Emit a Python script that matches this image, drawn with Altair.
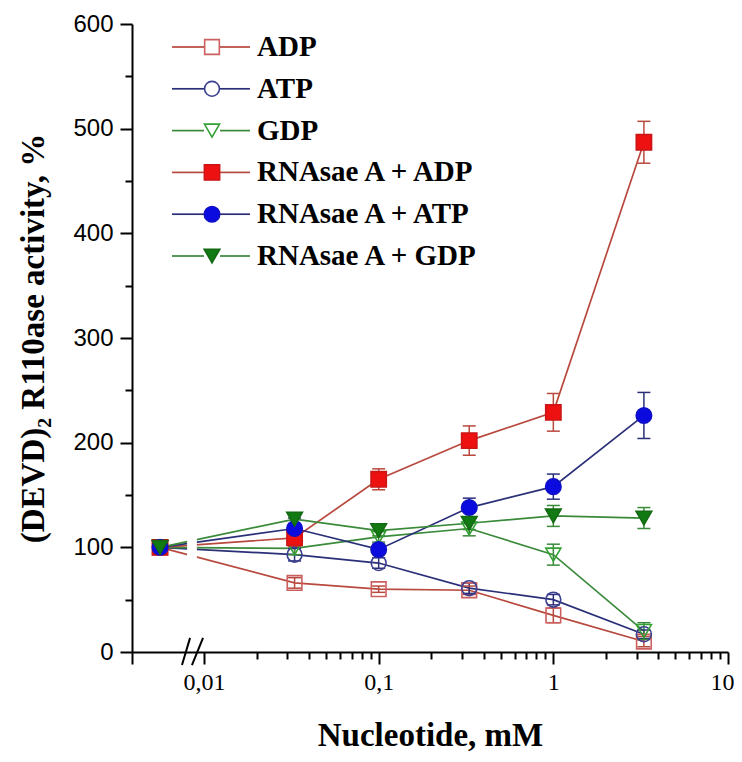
import altair as alt
import pandas as pd

# ---------------- data ----------------
concentration = [0.0056, 0.033, 0.1, 0.33, 1.0, 3.3]   # mM (first = control, left of axis break)
series_names = ["ADP", "ATP", "GDP", "RNAsae A + ADP", "RNAsae A + ATP", "RNAsae A + GDP"]

adp = [100, 66, 60, 59, 35, 10]
adp_err = [5, 5, 3, 4, 7, 5]
atp = [100, 93, 85, 61, 50, 17]
atp_err = [5, 6, 5, 5, 5, 4]
gdp = [100, 99, 110, 118, 93, 20]
gdp_err = [5, 6, 5, 7, 10, 8]
rna_adp = [100, 109, 165, 202, 229, 487]
rna_adp_err = [6, 8, 10, 14, 18, 20]
rna_atp = [100, 118, 98, 138, 158, 226]
rna_atp_err = [5, 10, 5, 9, 12, 22]
rna_gdp = [100, 127, 116, 123, 130, 128]
rna_gdp_err = [5, 6, 5, 6, 10, 10]

all_values = [adp, atp, gdp, rna_adp, rna_atp, rna_gdp]
all_errors = [adp_err, atp_err, gdp_err, rna_adp_err, rna_atp_err, rna_gdp_err]

X_MIN, X_MAX = 0.00387, 10
x_major = [0.01, 0.1, 1, 10]
x_minor = [m * d for d in [0.01, 0.1, 1] for m in range(2, 10)]
y_ticks = list(range(0, 601, 50))

# ---------------- styles ----------------
line_colors = ["#b8493e", "#2a2f78", "#3a8a3a", "#b8493e", "#2a2f78", "#3a8a3a"]
marker_strokes = ["#cc5f5f", "#3b3f8f", "#34a034", "#cc1515", "#1010c8", "#136a13"]
marker_fills = ["transparent", "transparent", "transparent", "#ee1111", "#0b0be0", "#127a12"]
shapes = ["square", "circle", "triangle-down", "square", "circle", "triangle-down"]
sizes = [215, 245, 300, 215, 245, 300]

BREAK_LO, BREAK_HI = 0.0080, 0.0091
slash_x0 = [0.00748, 0.00853]
slash_x1 = [0.00832, 0.00987]
slash_y0, slash_y1 = -12.5, 13.5

rows = []
for name, vals, errs in zip(series_names, all_values, all_errors):
    for xv, yv, ev in zip(concentration, vals, errs):
        rows.append({"series": name, "x": xv, "y": yv, "lo": yv - ev, "hi": yv + ev})
df = pd.DataFrame(rows)

legend_df = pd.DataFrame({"series": series_names, "row": list(range(len(series_names)))})
break_df = pd.DataFrame({"x0": [BREAK_LO], "x1": [BREAK_HI], "y0": [80], "y1": [136]})
slash_df = pd.DataFrame({"x0": slash_x0, "x1": slash_x1, "y0": [slash_y0] * 2, "y1": [slash_y1] * 2})

# ---------------- scales & axes ----------------
serif = "Liberation Serif"
sans = "Liberation Sans"

major_test = "indexof([0.01, 0.1, 1, 10], datum.value) >= 0 || datum.value < 0.005"
x_axis = alt.Axis(
    values=[X_MIN] + x_major + x_minor,
    labelExpr="datum.value == 0.01 ? '0,01' : datum.value == 0.1 ? '0,1' : datum.value == 1 ? '1' : datum.value == 10 ? '10' : ''",
    labelAlign={"condition": {"test": "datum.value == 10", "value": "right"}, "value": "center"},
    labelOffset={"condition": {"test": "datum.value == 10", "value": 6}, "value": 0},
    tickSize={"condition": {"test": major_test, "value": 12}, "value": 7},
    tickWidth=2, tickColor="black", domainColor="black", domainWidth=2,
    labelFont=serif, labelFontSize=24, labelColor="black", labelPadding=6,
    labelOverlap=False, labelFlush=False, labelBound=False,
    grid=False,
    title="Nucleotide, mM", titleFont=serif, titleFontSize=33, titleFontWeight="bold",
    titleColor="black", titleBaseline="alphabetic", titleY=93,
)
y_axis = alt.Axis(
    values=y_ticks,
    labelExpr="datum.value % 100 == 0 ? datum.label : ''",
    tickSize={"condition": {"test": "datum.value % 100 == 0", "value": 12}, "value": 7},
    tickWidth=2, tickColor="black", domainColor="black", domainWidth=2,
    labelFont=sans, labelFontSize=24, labelColor="black", labelPadding=7,
    labelOverlap=False, labelFlush=False, labelBound=False,
    grid=False,
    title="(DEVD)\u2082 R110ase activity, %", titleFont=serif, titleFontSize=33,
    titleFontWeight="bold", titleColor="black", titleBaseline="alphabetic",
    titleX=-89, titleAngle=-90,
)
x_scale = alt.Scale(type="log", domain=[X_MIN, X_MAX], nice=False)
y_scale = alt.Scale(domain=[0, 600], nice=False, zero=False)

X = alt.X("x:Q", scale=x_scale, axis=x_axis)
Y = alt.Y("y:Q", scale=y_scale, axis=y_axis)

color_enc = alt.Color("series:N", scale=alt.Scale(domain=series_names, range=line_colors), legend=None)
shape_enc = alt.Shape("series:N", scale=alt.Scale(domain=series_names, range=shapes), legend=None)
size_enc = alt.Size("series:N", scale=alt.Scale(domain=series_names, range=sizes), legend=None)
fill_enc = alt.Fill("series:N", scale=alt.Scale(domain=series_names, range=marker_fills), legend=None)
stroke_enc = alt.Stroke("series:N", scale=alt.Scale(domain=series_names, range=marker_strokes), legend=None)

base = alt.Chart(df)

lines = base.mark_line(strokeWidth=1.7).encode(x=X, y=Y, color=color_enc)

gap = alt.Chart(break_df).mark_rect(color="white").encode(
    x=alt.X("x0:Q", scale=x_scale, axis=x_axis), x2="x1:Q",
    y=alt.Y("y0:Q", scale=y_scale, axis=y_axis), y2="y1:Q",
)

err_rule = base.mark_rule(strokeWidth=1.5).encode(
    x=X, y=alt.Y("lo:Q", scale=y_scale, axis=y_axis), y2="hi:Q", color=color_enc
)
cap_lo = base.mark_tick(orient="horizontal", size=13, thickness=1.5, opacity=1).encode(
    x=X, y=alt.Y("lo:Q", scale=y_scale, axis=y_axis), color=color_enc
)
cap_hi = base.mark_tick(orient="horizontal", size=13, thickness=1.5, opacity=1).encode(
    x=X, y=alt.Y("hi:Q", scale=y_scale, axis=y_axis), color=color_enc
)

points = base.mark_point(strokeWidth=1.6, opacity=1).encode(
    x=X, y=Y, shape=shape_enc, size=size_enc, fill=fill_enc, stroke=stroke_enc
)

slashes = alt.Chart(slash_df).mark_rule(color="black", strokeWidth=2).encode(
    x=alt.X("x0:Q", scale=x_scale, axis=x_axis), x2="x1:Q",
    y=alt.Y("y0:Q", scale=y_scale, axis=y_axis), y2="y1:Q",
)

# ---------------- legend (drawn in plot pixel space) ----------------
leg = alt.Chart(legend_df).transform_calculate(py="23 + datum.row * 41.8")
LY = alt.Y("py:Q", scale=None, axis=None)
leg_line_left = leg.mark_rule(strokeWidth=1.7).encode(
    x=alt.value(40), x2=alt.value(72), y=LY, color=color_enc
)
leg_line_right = leg.mark_rule(strokeWidth=1.7).encode(
    x=alt.value(88), x2=alt.value(118), y=LY, color=color_enc
)
leg_points = leg.mark_point(strokeWidth=1.6, opacity=1).encode(
    x=alt.value(80), y=LY, shape=shape_enc, size=size_enc, fill=fill_enc, stroke=stroke_enc
)
leg_text = leg.mark_text(
    align="left", baseline="middle", font=serif, fontSize=29, fontWeight="bold", color="black"
).encode(x=alt.value(125), y=LY, text="series:N")

chart = alt.layer(
    lines, gap, err_rule, cap_lo, cap_hi, points, slashes,
    leg_line_left, leg_line_right, leg_points, leg_text,
).properties(
    width=596, height=628,
    padding={"left": 124, "top": 16, "right": 6, "bottom": 102},
    autosize=alt.AutoSizeParams(type="none"),
    background="white",
).configure_view(stroke=None)

chart.save("out.html", embed_options={"renderer": "svg", "actions": False})
